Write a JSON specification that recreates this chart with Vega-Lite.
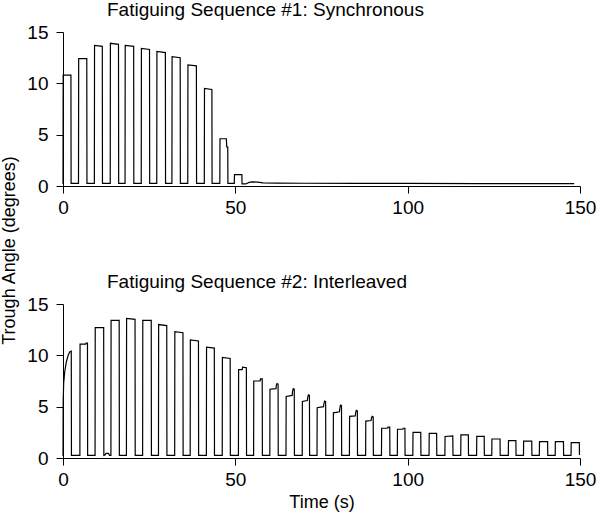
{
  "$schema": "https://vega.github.io/schema/vega-lite/v6.json",
  "padding": {"left": 0, "top": 1, "right": 2, "bottom": 2},
  "bounds": "flush",
  "spacing": 118,
  "datasets": {
    "s1": [
      {"t":0,"v":0.2},{"t":0.05,"v":10.8},{"t":2.3,"v":10.8},{"t":2.35,"v":0.25},
      {"t":4.5,"v":0.25},{"t":4.55,"v":12.4},{"t":6.9,"v":12.4},{"t":6.95,"v":0.25},
      {"t":9.1,"v":0.25},{"t":9.15,"v":13.7},{"t":11.4,"v":13.6},{"t":11.45,"v":0.25},
      {"t":13.7,"v":0.25},{"t":13.75,"v":13.9},{"t":16.1,"v":13.8},{"t":16.15,"v":0.25},
      {"t":18.0,"v":0.25},{"t":18.05,"v":13.7},{"t":20.5,"v":13.6},{"t":20.55,"v":0.25},
      {"t":22.7,"v":0.25},{"t":22.75,"v":13.4},{"t":25.1,"v":13.3},{"t":25.15,"v":0.25},
      {"t":27.2,"v":0.25},{"t":27.25,"v":13.1},{"t":29.7,"v":13.0},{"t":29.75,"v":0.25},
      {"t":31.6,"v":0.25},{"t":31.65,"v":12.6},{"t":34.0,"v":12.5},{"t":34.05,"v":0.25},
      {"t":36.2,"v":0.25},{"t":36.25,"v":11.8},{"t":38.7,"v":11.7},{"t":38.75,"v":0.25},
      {"t":41.0,"v":0.25},{"t":41.05,"v":9.5},{"t":43.2,"v":9.4},{"t":43.25,"v":0.25},
      {"t":45.5,"v":0.25},{"t":45.55,"v":4.6},{"t":47.4,"v":4.6},{"t":47.5,"v":3.8},{"t":47.8,"v":3.8},{"t":47.85,"v":0.25},
      {"t":49.7,"v":0.25},{"t":49.75,"v":1.1},{"t":51.9,"v":1.1},{"t":51.95,"v":0.2},
      {"t":53.0,"v":0.2},{"t":54.0,"v":0.35},{"t":55.0,"v":0.4},{"t":56.5,"v":0.38},{"t":58.0,"v":0.3},
      {"t":62.0,"v":0.28},{"t":70.0,"v":0.27},{"t":85.0,"v":0.25},{"t":100.0,"v":0.25},{"t":120.0,"v":0.24},{"t":148.3,"v":0.24}
    ],
    "s2": [
      {"t":0,"v":0.2},{"t":0.05,"v":5.5},{"t":0.2,"v":7.3},{"t":0.5,"v":8.4},{"t":1.0,"v":9.4},{"t":1.5,"v":10.0},{"t":2.0,"v":10.35},{"t":2.4,"v":10.4},{"t":2.45,"v":0.25},
      {"t":4.9,"v":0.25},{"t":4.95,"v":11.1},{"t":6.6,"v":11.1},{"t":6.7,"v":11.2},{"t":7.1,"v":11.2},{"t":7.15,"v":0.25},
      {"t":9.3,"v":0.25},{"t":9.35,"v":12.7},{"t":11.8,"v":12.7},{"t":11.85,"v":0.25},
      {"t":12.2,"v":0.3},{"t":12.5,"v":0.45},{"t":13.2,"v":0.45},{"t":13.5,"v":0.25},
      {"t":13.9,"v":0.25},{"t":13.95,"v":13.4},{"t":16.3,"v":13.4},{"t":16.35,"v":0.25},
      {"t":18.4,"v":0.25},{"t":18.45,"v":13.6},{"t":20.9,"v":13.5},{"t":20.95,"v":0.25},
      {"t":23.1,"v":0.25},{"t":23.15,"v":13.4},{"t":25.6,"v":13.4},{"t":25.65,"v":0.25},
      {"t":27.7,"v":0.25},{"t":27.75,"v":13.0},{"t":30.1,"v":12.9},{"t":30.15,"v":0.25},
      {"t":32.4,"v":0.25},{"t":32.45,"v":12.3},{"t":34.8,"v":12.2},{"t":34.85,"v":0.25},
      {"t":36.9,"v":0.25},{"t":36.95,"v":11.5},{"t":39.3,"v":11.4},{"t":39.35,"v":0.25},
      {"t":41.6,"v":0.25},{"t":41.65,"v":10.8},{"t":43.9,"v":10.7},{"t":43.95,"v":0.25},
      {"t":46.2,"v":0.25},{"t":46.25,"v":9.8},{"t":48.5,"v":9.7},{"t":48.55,"v":0.25},
      {"t":50.9,"v":0.25},{"t":50.95,"v":8.6},{"t":52.0,"v":8.6},{"t":52.1,"v":8.85},{"t":53.2,"v":8.8},{"t":53.25,"v":0.25},
      {"t":55.3,"v":0.25},{"t":55.35,"v":7.5},{"t":57.2,"v":7.5},{"t":57.3,"v":7.7},{"t":57.8,"v":7.7},{"t":57.85,"v":0.25},
      {"t":60.0,"v":0.25},{"t":60.05,"v":6.7},{"t":61.8,"v":6.75},{"t":61.9,"v":7.1},{"t":62.1,"v":7.25},{"t":62.4,"v":7.2},{"t":62.45,"v":0.25},
      {"t":64.7,"v":0.25},{"t":64.75,"v":6.0},{"t":66.5,"v":6.1},{"t":66.6,"v":6.5},{"t":66.8,"v":6.75},{"t":67.1,"v":6.7},{"t":67.15,"v":0.25},
      {"t":69.4,"v":0.25},{"t":69.45,"v":5.5},{"t":70.9,"v":5.6},{"t":71.0,"v":5.9},{"t":71.2,"v":6.15},{"t":71.5,"v":6.1},{"t":71.55,"v":0.25},
      {"t":73.7,"v":0.25},{"t":73.75,"v":4.9},{"t":75.6,"v":5.0},{"t":75.7,"v":5.3},{"t":75.9,"v":5.55},{"t":76.2,"v":5.5},{"t":76.25,"v":0.25},
      {"t":78.4,"v":0.25},{"t":78.45,"v":4.4},{"t":80.2,"v":4.5},{"t":80.3,"v":4.8},{"t":80.5,"v":5.15},{"t":80.8,"v":5.1},{"t":80.85,"v":0.25},
      {"t":83.1,"v":0.25},{"t":83.15,"v":4.05},{"t":84.8,"v":4.1},{"t":84.9,"v":4.4},{"t":85.1,"v":4.65},{"t":85.4,"v":4.6},{"t":85.45,"v":0.25},
      {"t":87.8,"v":0.25},{"t":87.85,"v":3.6},{"t":89.4,"v":3.65},{"t":89.5,"v":3.9},{"t":89.7,"v":4.05},{"t":90.0,"v":4.0},{"t":90.05,"v":0.25},
      {"t":92.4,"v":0.25},{"t":92.45,"v":2.9},{"t":94.2,"v":2.9},{"t":94.3,"v":3.0},{"t":94.8,"v":3.0},{"t":94.85,"v":0.25},
      {"t":97.0,"v":0.25},{"t":97.05,"v":2.8},{"t":98.6,"v":2.8},{"t":98.7,"v":2.9},{"t":99.2,"v":2.9},{"t":99.25,"v":0.25},
      {"t":101.5,"v":0.25},{"t":101.55,"v":2.5},{"t":103.8,"v":2.5},{"t":103.85,"v":0.25},
      {"t":106.2,"v":0.25},{"t":106.25,"v":2.4},{"t":108.4,"v":2.4},{"t":108.45,"v":0.25},
      {"t":110.8,"v":0.25},{"t":110.85,"v":2.1},{"t":113.1,"v":2.15},{"t":113.15,"v":0.25},
      {"t":115.4,"v":0.25},{"t":115.45,"v":2.25},{"t":117.6,"v":2.25},{"t":117.65,"v":0.25},
      {"t":120.0,"v":0.25},{"t":120.05,"v":2.1},{"t":122.2,"v":2.1},{"t":122.25,"v":0.25},
      {"t":124.4,"v":0.25},{"t":124.45,"v":1.85},{"t":126.8,"v":1.85},{"t":126.85,"v":0.25},
      {"t":129.2,"v":0.25},{"t":129.25,"v":1.7},{"t":131.4,"v":1.7},{"t":131.45,"v":0.25},
      {"t":133.6,"v":0.25},{"t":133.65,"v":1.65},{"t":136.0,"v":1.65},{"t":136.05,"v":0.25},
      {"t":138.2,"v":0.25},{"t":138.25,"v":1.6},{"t":140.6,"v":1.6},{"t":140.65,"v":0.25},
      {"t":142.8,"v":0.25},{"t":142.85,"v":1.6},{"t":145.2,"v":1.6},{"t":145.25,"v":0.25},
      {"t":147.4,"v":0.25},{"t":147.45,"v":1.5},{"t":149.8,"v":1.5},{"t":149.85,"v":0.3}
    ]
  },
  "vconcat": [
    {
      "title": "Fatiguing Sequence #1: Synchronous",
      "width": 517,
      "height": 154,
      "data": {"name": "s1"},
      "mark": {"type": "line", "color": "black", "strokeWidth": 1.2},
      "encoding": {
        "x": {"field": "t", "type": "quantitative", "scale": {"domain": [0, 150], "nice": false}, "axis": {"values": [0, 50, 100, 150], "title": null}},
        "y": {"field": "v", "type": "quantitative", "scale": {"domain": [0, 15], "nice": false}, "axis": {"values": [0, 5, 10, 15], "title": "Trough Angle (degrees)", "titleY": 218}}
      }
    },
    {
      "title": "Fatiguing Sequence #2: Interleaved",
      "width": 517,
      "height": 154,
      "data": {"name": "s2"},
      "mark": {"type": "line", "color": "black", "strokeWidth": 1.2},
      "encoding": {
        "x": {"field": "t", "type": "quantitative", "scale": {"domain": [0, 150], "nice": false}, "axis": {"values": [0, 50, 100, 150], "title": "Time (s)"}},
        "y": {"field": "v", "type": "quantitative", "scale": {"domain": [0, 15], "nice": false}, "axis": {"values": [0, 5, 10, 15], "title": null}}
      }
    }
  ],
  "config": {
    "view": {"stroke": null},
    "font": "Liberation Sans",
    "axis": {
      "grid": false,
      "domainColor": "black",
      "tickColor": "black",
      "labelColor": "black",
      "titleColor": "black",
      "labelFont": "Liberation Sans",
      "titleFont": "Liberation Sans",
      "labelFontSize": 19,
      "titleFontSize": 18,
      "titleFontWeight": "normal",
      "tickSize": 7,
      "labelFlush": false
    },
    "axisX": {"labelPadding": 5, "titlePadding": 4},
    "axisY": {"labelPadding": 8, "titlePadding": 8},
    "title": {
      "font": "Liberation Sans",
      "fontSize": 19,
      "fontWeight": "normal",
      "color": "black",
      "anchor": "start",
      "frame": "group",
      "dx": 44,
      "offset": 3
    }
  }
}
